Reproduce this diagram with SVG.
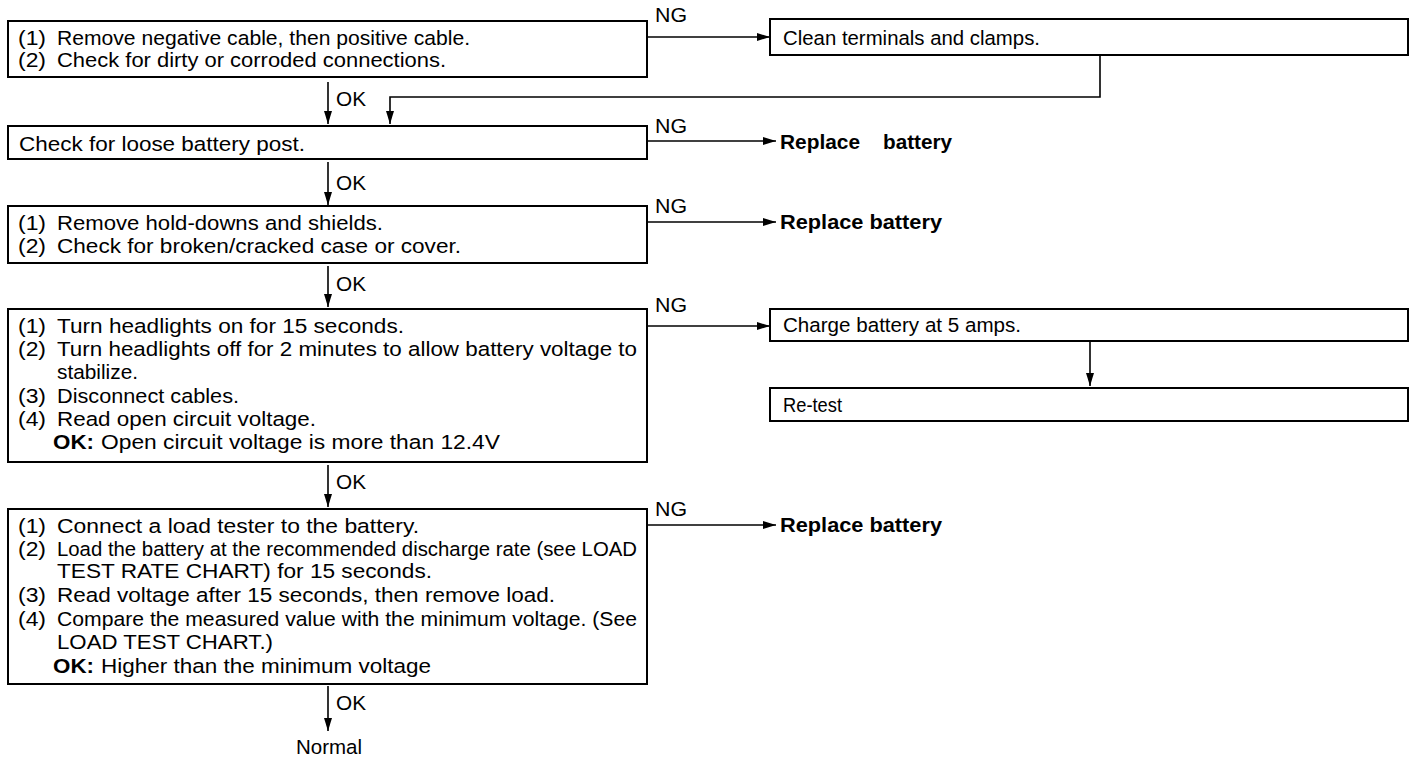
<svg xmlns="http://www.w3.org/2000/svg" width="1424" height="760" viewBox="0 0 1424 760">
<style>
text{font-family:"Liberation Sans",Arial,sans-serif;font-size:20.5px;fill:#000}
.b{font-weight:bold}
.box{fill:#fff;stroke:#000;stroke-width:2}
.c{fill:none;stroke:#000;stroke-width:1.6}
</style>
<defs>
<marker id="ah" viewBox="0 0 13 8" refX="13" refY="4" markerWidth="13" markerHeight="8" markerUnits="userSpaceOnUse" orient="auto">
<path d="M0,0 L13,4 L0,8 z" fill="#000"/>
</marker>
</defs>
<rect width="1424" height="760" fill="#fff"/>
<g id="connectors">
<path class="c" d="M647,37 H770" marker-end="url(#ah)"/>
<path class="c" d="M1100,55 V97 H390 V124" marker-end="url(#ah)"/>
<path class="c" d="M328,82 V124" marker-end="url(#ah)"/>
<path class="c" d="M647,141 H776" marker-end="url(#ah)"/>
<path class="c" d="M328,162 V205" marker-end="url(#ah)"/>
<path class="c" d="M647,222 H776" marker-end="url(#ah)"/>
<path class="c" d="M328,266 V307" marker-end="url(#ah)"/>
<path class="c" d="M647,326 H770" marker-end="url(#ah)"/>
<path class="c" d="M1090,342 V386" marker-end="url(#ah)"/>
<path class="c" d="M328,465 V507" marker-end="url(#ah)"/>
<path class="c" d="M647,525 H776" marker-end="url(#ah)"/>
<path class="c" d="M328,686 V731" marker-end="url(#ah)"/>
<text x="655" y="22" textLength="32" lengthAdjust="spacingAndGlyphs">NG</text>
<text x="655" y="133" textLength="32" lengthAdjust="spacingAndGlyphs">NG</text>
<text x="655" y="213" textLength="32" lengthAdjust="spacingAndGlyphs">NG</text>
<text x="655" y="312" textLength="32" lengthAdjust="spacingAndGlyphs">NG</text>
<text x="655" y="516" textLength="32" lengthAdjust="spacingAndGlyphs">NG</text>
<text x="336" y="106" textLength="30" lengthAdjust="spacingAndGlyphs">OK</text>
<text x="336" y="190" textLength="30" lengthAdjust="spacingAndGlyphs">OK</text>
<text x="336" y="291" textLength="30" lengthAdjust="spacingAndGlyphs">OK</text>
<text x="336" y="489" textLength="30" lengthAdjust="spacingAndGlyphs">OK</text>
<text x="336" y="710" textLength="30" lengthAdjust="spacingAndGlyphs">OK</text>
</g>
<g id="n1">
<rect class="box" x="8" y="21" width="639" height="56"/>
<text x="18" y="45" textLength="28" lengthAdjust="spacingAndGlyphs">(1)</text>
<text x="57" y="45" textLength="413" lengthAdjust="spacingAndGlyphs">Remove negative cable, then positive cable.</text>
<text x="18" y="67" textLength="28" lengthAdjust="spacingAndGlyphs">(2)</text>
<text x="57" y="67" textLength="389" lengthAdjust="spacingAndGlyphs">Check for dirty or corroded connections.</text>
</g>
<g id="n2">
<rect class="box" x="770" y="19" width="638" height="36"/>
<text x="783" y="45" textLength="257" lengthAdjust="spacingAndGlyphs">Clean terminals and clamps.</text>
</g>
<g id="n3">
<rect class="box" x="8" y="126" width="639" height="33"/>
<text x="19" y="151" textLength="286" lengthAdjust="spacingAndGlyphs">Check for loose battery post.</text>
</g>
<g id="n4">
<text class="b" x="780" y="149" textLength="80" lengthAdjust="spacingAndGlyphs">Replace</text>
<text class="b" x="883" y="149" textLength="69" lengthAdjust="spacingAndGlyphs">battery</text>
</g>
<g id="n5">
<rect class="box" x="8" y="206" width="639" height="57"/>
<text x="18" y="230" textLength="28" lengthAdjust="spacingAndGlyphs">(1)</text>
<text x="57" y="230" textLength="326" lengthAdjust="spacingAndGlyphs">Remove hold-downs and shields.</text>
<text x="18" y="253" textLength="28" lengthAdjust="spacingAndGlyphs">(2)</text>
<text x="57" y="253" textLength="404" lengthAdjust="spacingAndGlyphs">Check for broken/cracked case or cover.</text>
</g>
<g id="n6">
<text class="b" x="780" y="229" textLength="162" lengthAdjust="spacingAndGlyphs">Replace battery</text>
</g>
<g id="n7">
<rect class="box" x="8" y="309" width="639" height="153"/>
<text x="18" y="333" textLength="28" lengthAdjust="spacingAndGlyphs">(1)</text>
<text x="57" y="333" textLength="347" lengthAdjust="spacingAndGlyphs">Turn headlights on for 15 seconds.</text>
<text x="18" y="356" textLength="28" lengthAdjust="spacingAndGlyphs">(2)</text>
<text x="57" y="356" textLength="580" lengthAdjust="spacingAndGlyphs">Turn headlights off for 2 minutes to allow battery voltage to</text>
<text x="57" y="379" textLength="81" lengthAdjust="spacingAndGlyphs">stabilize.</text>
<text x="18" y="403" textLength="28" lengthAdjust="spacingAndGlyphs">(3)</text>
<text x="57" y="403" textLength="182" lengthAdjust="spacingAndGlyphs">Disconnect cables.</text>
<text x="18" y="426" textLength="28" lengthAdjust="spacingAndGlyphs">(4)</text>
<text x="57" y="426" textLength="259" lengthAdjust="spacingAndGlyphs">Read open circuit voltage.</text>
<text class="b" x="53" y="449" textLength="41" lengthAdjust="spacingAndGlyphs">OK:</text>
<text x="101" y="449" textLength="399" lengthAdjust="spacingAndGlyphs">Open circuit voltage is more than 12.4V</text>
</g>
<g id="n8">
<rect class="box" x="770" y="309" width="638" height="32"/>
<text x="783" y="332" textLength="238" lengthAdjust="spacingAndGlyphs">Charge battery at 5 amps.</text>
</g>
<g id="n9">
<rect class="box" x="770" y="388" width="638" height="33"/>
<text x="783" y="412" textLength="59" lengthAdjust="spacingAndGlyphs">Re-test</text>
</g>
<g id="n10">
<rect class="box" x="8" y="509" width="639" height="175"/>
<text x="18" y="533" textLength="28" lengthAdjust="spacingAndGlyphs">(1)</text>
<text x="57" y="533" textLength="362" lengthAdjust="spacingAndGlyphs">Connect a load tester to the battery.</text>
<text x="18" y="556" textLength="28" lengthAdjust="spacingAndGlyphs">(2)</text>
<text x="57" y="556" textLength="580" lengthAdjust="spacingAndGlyphs">Load the battery at the recommended discharge rate (see LOAD</text>
<text x="57" y="578" textLength="375" lengthAdjust="spacingAndGlyphs">TEST RATE CHART) for 15 seconds.</text>
<text x="18" y="602" textLength="28" lengthAdjust="spacingAndGlyphs">(3)</text>
<text x="57" y="602" textLength="498" lengthAdjust="spacingAndGlyphs">Read voltage after 15 seconds, then remove load.</text>
<text x="18" y="626" textLength="28" lengthAdjust="spacingAndGlyphs">(4)</text>
<text x="57" y="626" textLength="580" lengthAdjust="spacingAndGlyphs">Compare the measured value with the minimum voltage. (See</text>
<text x="57" y="649" textLength="216" lengthAdjust="spacingAndGlyphs">LOAD TEST CHART.)</text>
<text class="b" x="53" y="673" textLength="41" lengthAdjust="spacingAndGlyphs">OK:</text>
<text x="101" y="673" textLength="330" lengthAdjust="spacingAndGlyphs">Higher than the minimum voltage</text>
</g>
<g id="n11">
<text class="b" x="780" y="532" textLength="162" lengthAdjust="spacingAndGlyphs">Replace battery</text>
</g>
<g id="n12">
<text x="329" y="754" text-anchor="middle" textLength="66" lengthAdjust="spacingAndGlyphs">Normal</text>
</g>
</svg>
